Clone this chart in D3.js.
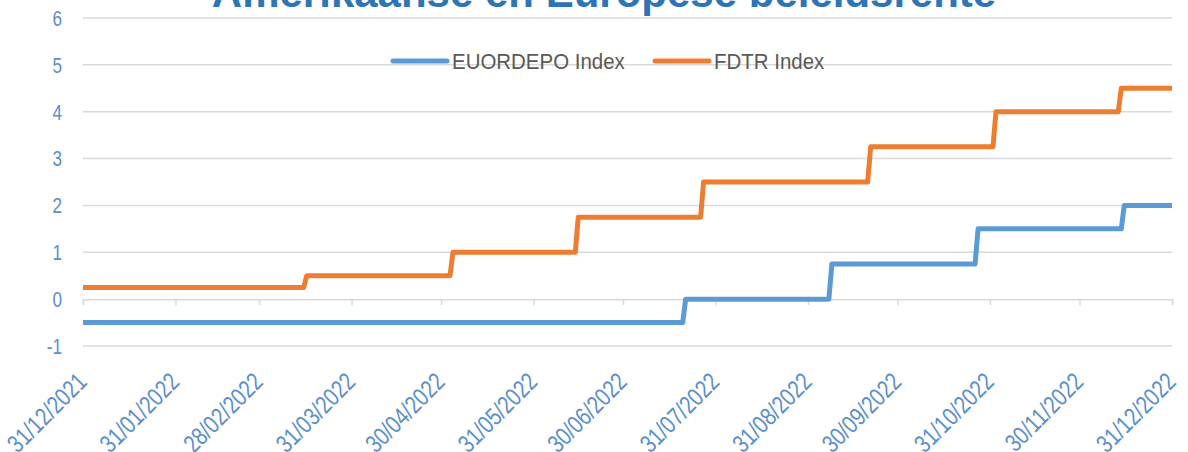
<!DOCTYPE html>
<html lang="nl">
<head>
<meta charset="UTF-8">
<title>Amerikaanse en Europese beleidsrente</title>
<style>
  html, body { margin: 0; padding: 0; background: #fff; overflow: hidden; }
</style>
</head>
<body>
<svg id="chart"></svg>
<script src="https://cdn.jsdelivr.net/npm/d3@7"></script>
<script>
// series names
const seriesNames = ["EUORDEPO Index", "FDTR Index"];

// ECB deposit rate, points at the step changes (date, value)
const eurDates = ["2021-12-31", "2022-07-20", "2022-07-21", "2022-09-07", "2022-09-08",
                  "2022-10-26", "2022-10-27", "2022-12-14", "2022-12-15", "2022-12-31"];
const eurValues = [-0.5, -0.5, 0, 0, 0.75, 0.75, 1.5, 1.5, 2, 2];

// Fed funds target rate (upper bound)
const fedDates = ["2021-12-31", "2022-03-15", "2022-03-16", "2022-05-03", "2022-05-04",
                  "2022-06-14", "2022-06-15", "2022-07-26", "2022-07-27", "2022-09-20",
                  "2022-09-21", "2022-11-01", "2022-11-02", "2022-12-13", "2022-12-14", "2022-12-31"];
const fedValues = [0.25, 0.25, 0.5, 0.5, 1, 1, 1.75, 1.75, 2.5, 2.5, 3.25, 3.25, 4, 4, 4.5, 4.5];

// x tick labels (month ends)
const tickDates = ["2021-12-31", "2022-01-31", "2022-02-28", "2022-03-31", "2022-04-30",
                   "2022-05-31", "2022-06-30", "2022-07-31", "2022-08-31", "2022-09-30",
                   "2022-10-31", "2022-11-30", "2022-12-31"];
const yTicks = [-1, 0, 1, 2, 3, 4, 5, 6];

const W = 1188, H = 452;
const margin = { top: 18, right: 16, bottom: 106, left: 83 };
const parse = d3.timeParse("%Y-%m-%d");
const fmt = d3.timeFormat("%d/%m/%Y");
const narrowFont = "'Liberation Sans', Arial, sans-serif";

const svg = d3.select("#chart").attr("width", W).attr("height", H);

const x = d3.scaleTime()
    .domain([parse(tickDates[0]), parse(tickDates[tickDates.length - 1])])
    .range([margin.left, W - margin.right]);
const y = d3.scaleLinear()
    .domain([-1, 6])
    .range([H - margin.bottom, margin.top]);

// gridlines
svg.append("g")
    .selectAll("line")
    .data(yTicks.filter(d => d !== 0))
    .enter().append("line")
    .attr("x1", x.range()[0]).attr("x2", x.range()[1])
    .attr("y1", d => y(d)).attr("y2", d => y(d))
    .attr("stroke", "#d9d9d9").attr("stroke-width", 1.5);

// y labels (condensed look via scaleX)
svg.append("g")
    .selectAll("text")
    .data(yTicks)
    .enter().append("text")
    .attr("transform", d => "translate(62," + y(d) + ") scale(0.78,1)")
    .attr("dy", "0.36em")
    .attr("text-anchor", "end")
    .style("font-family", narrowFont)
    .style("font-size", "22px")
    .attr("fill", "#5b8fc9")
    .text(d => d);

// x axis at zero with ticks
const xAxis = d3.axisBottom(x)
    .tickValues(tickDates.map(parse))
    .tickSize(6)
    .tickFormat("");
const ax = svg.append("g")
    .attr("transform", "translate(0," + y(0) + ")")
    .call(xAxis);
ax.select(".domain").attr("stroke", "#d9d9d9").attr("stroke-width", 1.5);
ax.selectAll(".tick line").attr("stroke", "#d9d9d9").attr("stroke-width", 1.5);

// rotated date labels at bottom
svg.append("g")
    .selectAll("text")
    .data(tickDates)
    .enter().append("text")
    .attr("transform", d => "translate(" + (x(parse(d)) - 1) + "," + (y(-1) + 31) + ") rotate(-45) scale(0.8,1)")
    .attr("text-anchor", "end")
    .attr("dy", "0.36em")
    .style("font-family", narrowFont)
    .style("font-size", "25px")
    .attr("fill", "#5b8fc9")
    .text(d => fmt(parse(d)));

// lines
const line = d3.line()
    .x(d => x(d[0]))
    .y(d => y(d[1]));

const series = [
    { name: seriesNames[0], color: "#5b9bd5", pts: eurDates.map((d, i) => [parse(d), eurValues[i]]) },
    { name: seriesNames[1], color: "#ed7d31", pts: fedDates.map((d, i) => [parse(d), fedValues[i]]) }
];

svg.append("g")
    .selectAll("path")
    .data(series)
    .enter().append("path")
    .attr("d", d => line(d.pts))
    .attr("fill", "none")
    .attr("stroke", d => d.color)
    .attr("stroke-width", 5)
    .attr("stroke-linejoin", "round");

// legend
const legendX = [393, 655];
const lg = svg.append("g")
    .selectAll("g")
    .data(series)
    .enter().append("g")
    .attr("transform", (d, i) => "translate(" + legendX[i] + ",61)");
lg.append("line")
    .attr("x1", 0).attr("x2", 54)
    .attr("stroke", d => d.color)
    .attr("stroke-width", 5)
    .attr("stroke-linecap", "round");
lg.append("text")
    .attr("transform", "translate(59,0) scale(0.93,1)")
    .attr("dy", "0.36em")
    .style("font-family", narrowFont)
    .style("font-size", "22px")
    .attr("fill", "#595959")
    .text(d => d.name);

// title (cut off at the top)
svg.append("text")
    .attr("x", 604).attr("y", 7)
    .attr("text-anchor", "middle")
    .style("font-family", "'Liberation Sans', Arial, sans-serif")
    .style("font-size", "42px")
    .style("font-weight", "bold")
    .attr("fill", "#2e75b6")
    .text("Amerikaanse en Europese beleidsrente");
</script>
</body>
</html>
